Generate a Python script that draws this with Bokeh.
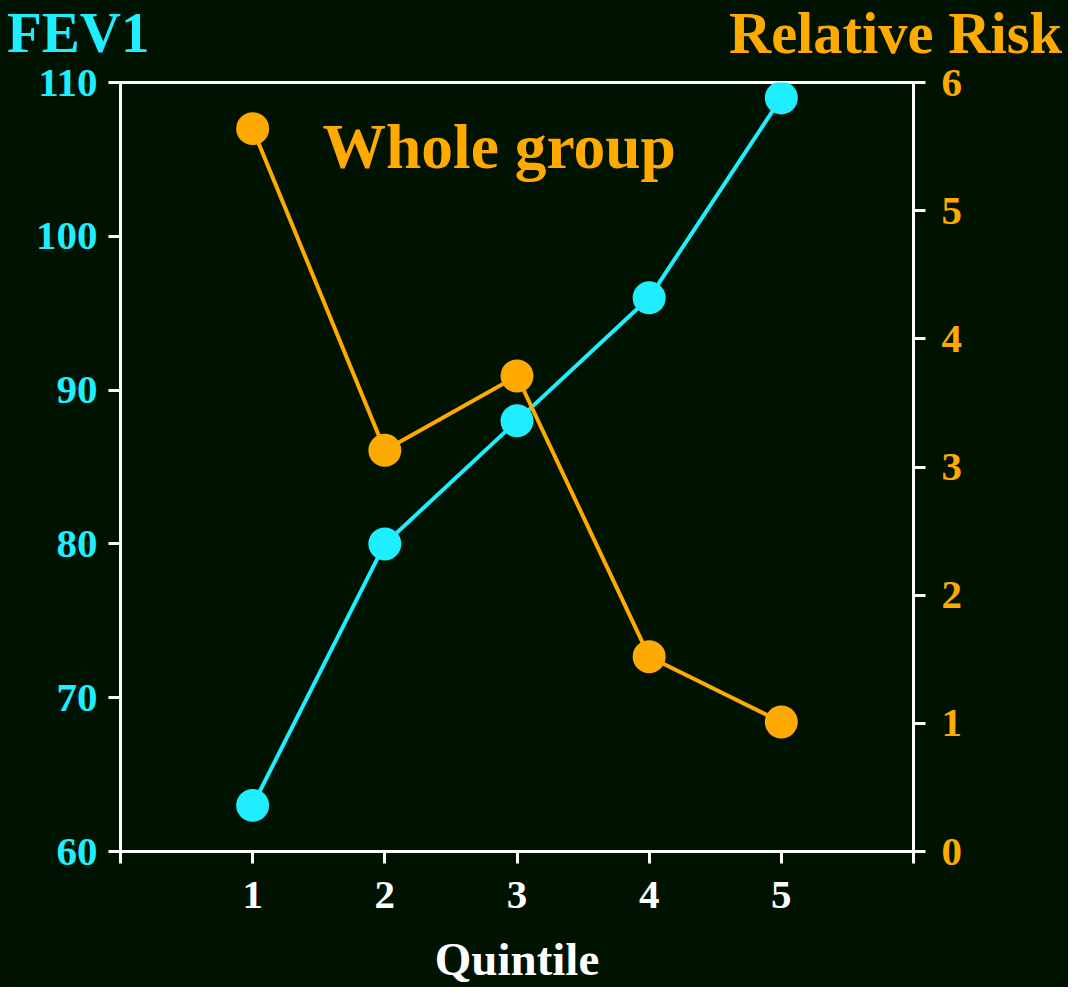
from bokeh.plotting import figure
from bokeh.models import Range1d, LinearAxis, FixedTicker, Label, Div
from bokeh.layouts import column
from bokeh.embed import file_html
from bokeh.resources import INLINE

quintile = [1, 2, 3, 4, 5]
fev1 = [63, 80, 88, 96, 109]
relative_risk = [5.64, 3.13, 3.71, 1.52, 1.01]
x_ticks = [0, 1, 2, 3, 4, 5, 6]
fev1_ticks = [60, 70, 80, 90, 100, 110]
rr_ticks = [0, 1, 2, 3, 4, 5, 6]

BG = "#001200"
CYAN = "#1EEEFF"
ORANGE = "#FFAA00"
FONT = "Liberation Serif"

W = 1068
HEAD_H = 54
FIG_H = 987 - HEAD_H

head_html = (
    f'<div style="position:relative;width:{W}px;height:{HEAD_H}px;overflow:visible;'
    f'font-family:\'{FONT}\';font-weight:bold;">'
    f'<span style="position:absolute;display:block;left:7px;top:0px;font-size:57px;line-height:normal;'
    f'color:{CYAN};white-space:nowrap;">FEV1</span>'
    f'<span style="position:absolute;display:block;right:6px;top:0px;font-size:58.5px;line-height:normal;'
    f'color:{ORANGE};white-space:nowrap;">Relative Risk</span>'
    '</div>'
)
head = Div(text=head_html, width=W, height=HEAD_H, margin=0,
           styles={"background-color": BG, "overflow": "visible"})

p = figure(width=W, height=FIG_H, output_backend="svg", toolbar_location=None,
           x_range=Range1d(0, 6), y_range=Range1d(60, 110),
           background_fill_color=BG, border_fill_color=BG,
           min_border_left=120, min_border_right=155, min_border_top=28,
           min_border_bottom=135, x_axis_location="below", margin=0)
p.grid.visible = False
p.outline_line_color = "white"
p.outline_line_width = 3
p.outline_line_alpha = 1

p.extra_y_ranges = {"rr": Range1d(0, 6)}
right = LinearAxis(y_range_name="rr", ticker=FixedTicker(ticks=rr_ticks))
p.add_layout(right, "right")

def style_axis(ax, color, standoff):
    ax.axis_line_color = "white"
    ax.axis_line_width = 3
    ax.major_tick_line_color = "white"
    ax.major_tick_line_width = 3
    ax.major_tick_out = 12
    ax.major_tick_in = 0
    ax.minor_tick_line_color = None
    ax.major_label_text_color = color
    ax.major_label_text_font = FONT
    ax.major_label_text_font_style = "bold"
    ax.major_label_text_font_size = "41px"
    ax.major_label_standoff = standoff

xa = p.xaxis[0]
xa.ticker = FixedTicker(ticks=x_ticks)
xa.major_label_overrides = {0: "", 6: ""}
style_axis(xa, "white", 18)
xa.axis_label = "Quintile"
xa.axis_label_text_color = "white"
xa.axis_label_text_font = FONT
xa.axis_label_text_font_style = "bold"
xa.axis_label_text_font_size = "47px"
xa.axis_label_standoff = 22

ya = p.yaxis[0]
ya.ticker = FixedTicker(ticks=fev1_ticks)
style_axis(ya, CYAN, 11)
style_axis(right, ORANGE, 16)

p.line(quintile, fev1, line_color=CYAN, line_width=4)
p.scatter(quintile, fev1, size=33, fill_color=CYAN, line_color=None)
p.line(quintile, relative_risk, line_color=ORANGE, line_width=4, y_range_name="rr")
p.scatter(quintile, relative_risk, size=33, fill_color=ORANGE, line_color=None, y_range_name="rr")

p.add_layout(Label(x=1.528, y=105.84, text="Whole group", text_color=ORANGE,
                   text_font=FONT, text_font_style="bold", text_font_size="63.5px",
                   text_align="left", text_baseline="alphabetic"))

layout = column(head, p, spacing=0, styles={"background-color": BG})
open("out.html", "w").write(file_html(layout, INLINE))
